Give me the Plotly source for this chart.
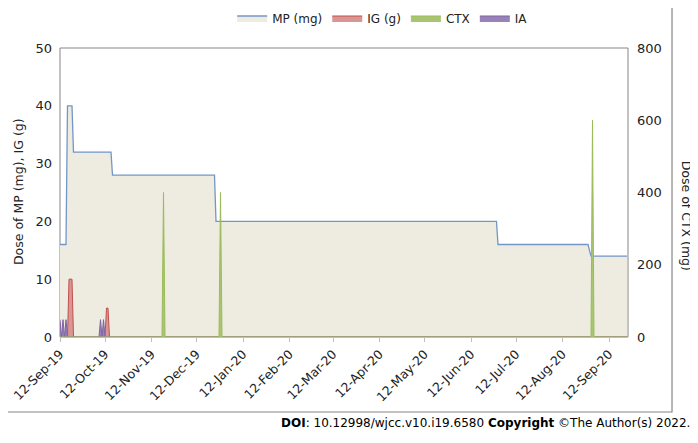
import plotly.graph_objects as go

# ---- data ----
mp_dates = ["2019-09-12", "2019-09-16", "2019-09-17", "2019-09-20", "2019-09-21",
            "2019-10-16", "2019-10-17", "2019-12-24", "2019-12-25", "2020-06-29",
            "2020-06-30", "2020-08-29", "2020-08-31", "2020-09-24"]
mp_values = [16, 16, 40, 40, 32, 32, 28, 28, 20, 20, 16, 16, 14, 14]

ig_dates = ["2019-09-12", "2019-09-17", "2019-09-18", "2019-09-19", "2019-09-20", "2019-09-21",
            "2019-10-12", "2019-10-13", "2019-10-14", "2019-10-15", "2020-09-24"]
ig_values = [0, 0, 10, 10, 10, 0, 0, 5, 5, 0, 0]

ctx_dates = ["2019-09-12", "2019-11-19", "2019-11-20", "2019-11-21",
             "2019-12-27", "2019-12-28", "2019-12-29",
             "2020-08-31", "2020-09-01", "2020-09-02", "2020-09-24"]
ctx_values = [0, 0, 400, 0, 0, 400, 0, 0, 600, 0, 0]

ia_dates = ["2019-09-12", "2019-09-13", "2019-09-14", "2019-09-15", "2019-09-16", "2019-09-17",
            "2019-10-08", "2019-10-09", "2019-10-10", "2019-10-11", "2019-10-12", "2020-09-24"]
ia_values = [3, 0, 3, 0, 3, 0, 0, 3, 0, 3, 0, 0]

tick_dates = ["2019-09-12", "2019-10-12", "2019-11-12", "2019-12-12", "2020-01-12",
              "2020-02-12", "2020-03-12", "2020-04-12", "2020-05-12", "2020-06-12",
              "2020-07-12", "2020-08-12", "2020-09-12"]
x_range = ["2019-09-12", "2020-09-24 16:00"]

FONT = "DejaVu Sans"
TXT = "#222222"

fig = go.Figure()
fig.add_trace(go.Scatter(x=mp_dates, y=mp_values, name="MP (mg)", mode="lines",
                         fill="tozeroy", fillcolor="#EEECE1",
                         line=dict(color="#7396C8", width=1.3), yaxis="y"))
fig.add_trace(go.Scatter(x=ig_dates, y=ig_values, name="IG (g)", mode="lines",
                         fill="tozeroy", fillcolor="#D99694",
                         line=dict(color="#C0504D", width=1), yaxis="y"))
fig.add_trace(go.Scatter(x=ctx_dates, y=ctx_values, name="CTX", mode="lines",
                         fill="tozeroy", fillcolor="#A9C574",
                         line=dict(color="#9BBB59", width=1), yaxis="y2"))
fig.add_trace(go.Scatter(x=ia_dates, y=ia_values, name="IA", mode="lines",
                         fill="tozeroy", fillcolor="#9783B8",
                         line=dict(color="#8064A2", width=1), yaxis="y"))

# the page adds an 8px body margin, so the figure is sized 8px smaller each way
fig.update_layout(
    width=690, height=435,
    margin=dict(l=52, r=70, t=40, b=106, autoexpand=False),
    paper_bgcolor="white", plot_bgcolor="white",
    font=dict(family=FONT, size=12, color=TXT),
    showlegend=True,
    legend=dict(orientation="h", xref="container", yref="container",
                x=0.543, y=0.977, xanchor="center", yanchor="middle",
                font=dict(size=12, color=TXT), itemwidth=30, bgcolor="rgba(0,0,0,0)"),
    xaxis=dict(type="date", range=x_range, tickvals=tick_dates, tickformat="%d-%b-%y",
               tickangle=-45, ticks="outside", ticklen=4, tickcolor="#BFBFBF",
               showgrid=False, zeroline=False, showline=True, linecolor="#BFBFBF",
               automargin=False, tickfont=dict(size=12.5, color=TXT)),
    yaxis=dict(range=[0, 50], dtick=10, showgrid=False, zeroline=False, showline=False,
               ticks="", automargin=False, ticklabelstandoff=7,
               tickfont=dict(size=13, color=TXT)),
    yaxis2=dict(range=[0, 800], dtick=200, overlaying="y", side="right", showgrid=False,
                zeroline=False, showline=False, ticks="", automargin=False,
                ticklabelstandoff=8, tickfont=dict(size=13, color=TXT)),
    shapes=[
        dict(type="rect", xref="paper", yref="paper", x0=0, x1=1, y0=0, y1=1,
             line=dict(color="#868686", width=1), layer="below"),
        dict(type="rect", xref="paper", yref="paper", x0=-0.1021, x1=1.0775,
             y0=-0.2595, y1=1.159, line=dict(color="#868686", width=1.2), layer="below"),
    ],
    annotations=[
        dict(text="Dose of MP (mg), IG (g)", xref="paper", yref="paper", x=-0.0739, y=0.5017,
             textangle=-90, showarrow=False, xanchor="center", yanchor="middle",
             font=dict(size=12.5, color=TXT)),
        dict(text="Dose of CTX (mg)", xref="paper", yref="paper", x=1.102, y=0.42,
             textangle=90, showarrow=False, xanchor="center", yanchor="middle",
             font=dict(size=12.5, color=TXT)),
        dict(text="<b>DOI</b>: 10.12998/wjcc.v10.i19.6580 <b>Copyright</b> ©The Author(s) 2022.",
             xref="paper", yref="paper", x=1.1127, y=-0.2976, xanchor="right", yanchor="middle",
             showarrow=False, font=dict(size=12, color="#000000")),
    ],
)

fig.write_html("out.html")
